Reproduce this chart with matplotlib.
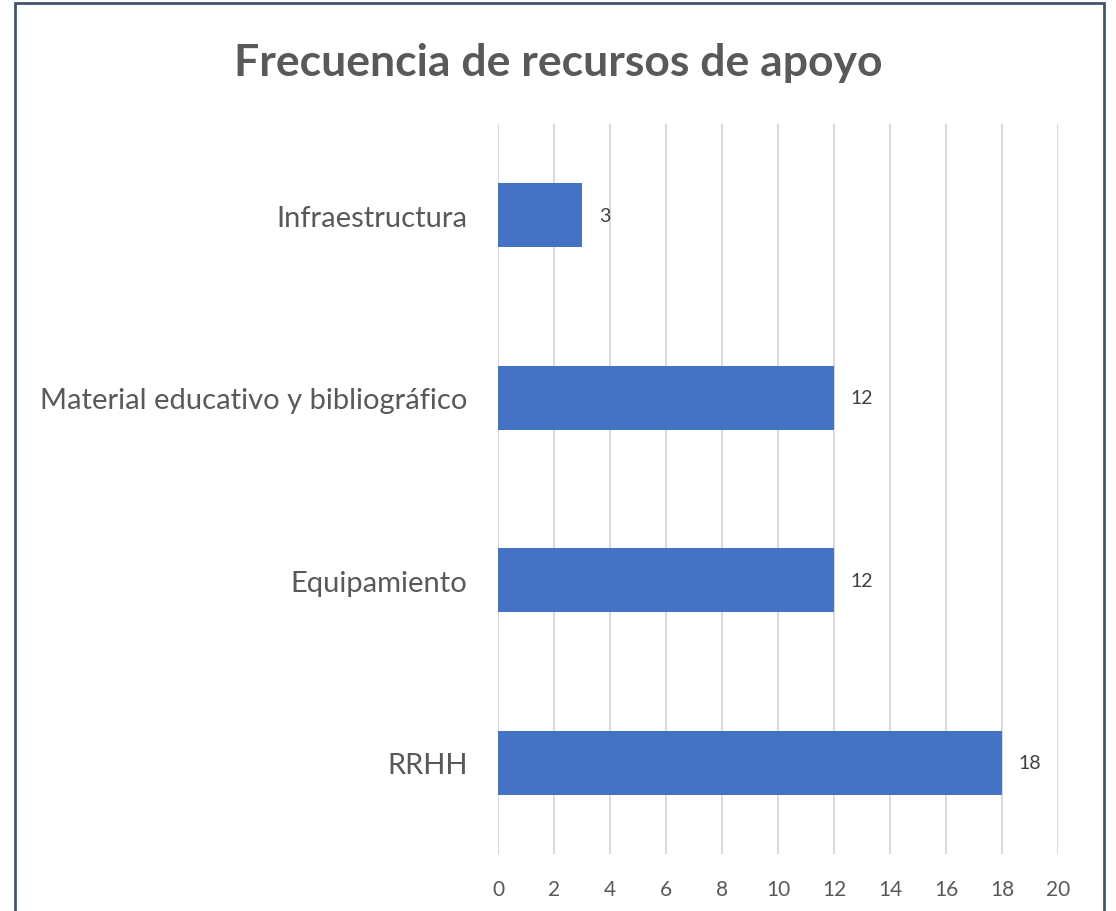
import matplotlib.pyplot as plt
from matplotlib.patches import Rectangle

categories = ['RRHH', 'Equipamiento', 'Material educativo y bibliográfico', 'Infraestructura']
values = [18, 12, 12, 3]
xticks = list(range(0, 21, 2))

plt.rcParams['font.family'] = ['Lato', 'DejaVu Sans']

fig = plt.figure(figsize=(11.16, 9.12), dpi=100)
ax = fig.add_axes([498 / 1116, 1 - 855 / 912, 560 / 1116, 730 / 912])

pos = range(len(categories))
ax.barh(pos, values, height=0.35, color='#4472C4', zorder=3)
for y, v in zip(pos, values):
    ax.text(v + 0.6, y, str(v), va='center', ha='left', fontsize=14, color='#404040')

ax.set_xlim(0, 20)
ax.set_ylim(-0.5, len(categories) - 0.5)
ax.set_xticks(xticks)
ax.set_yticks(list(pos))
ax.set_yticklabels(categories)
ax.tick_params(axis='x', length=0, pad=18, labelsize=15, labelcolor='#595959')
ax.tick_params(axis='y', length=0, pad=22, labelsize=21, labelcolor='#595959')
ax.grid(axis='x', color='#D9D9D9', linewidth=1.5, zorder=0)
for s in ax.spines.values():
    s.set_visible(False)

fig.text(0.5, 1 - 63 / 912, 'Frecuencia de recursos de apoyo', ha='center', va='center',
         fontsize=32, fontweight='bold', color='#595959')

fig.patches.append(Rectangle((15 / 1116, -0.05), (1104 - 15) / 1116, 1.05 - 4 / 912,
                             transform=fig.transFigure, fill=False,
                             edgecolor='#44546A', linewidth=2))

fig.savefig('out.png', dpi=100)
